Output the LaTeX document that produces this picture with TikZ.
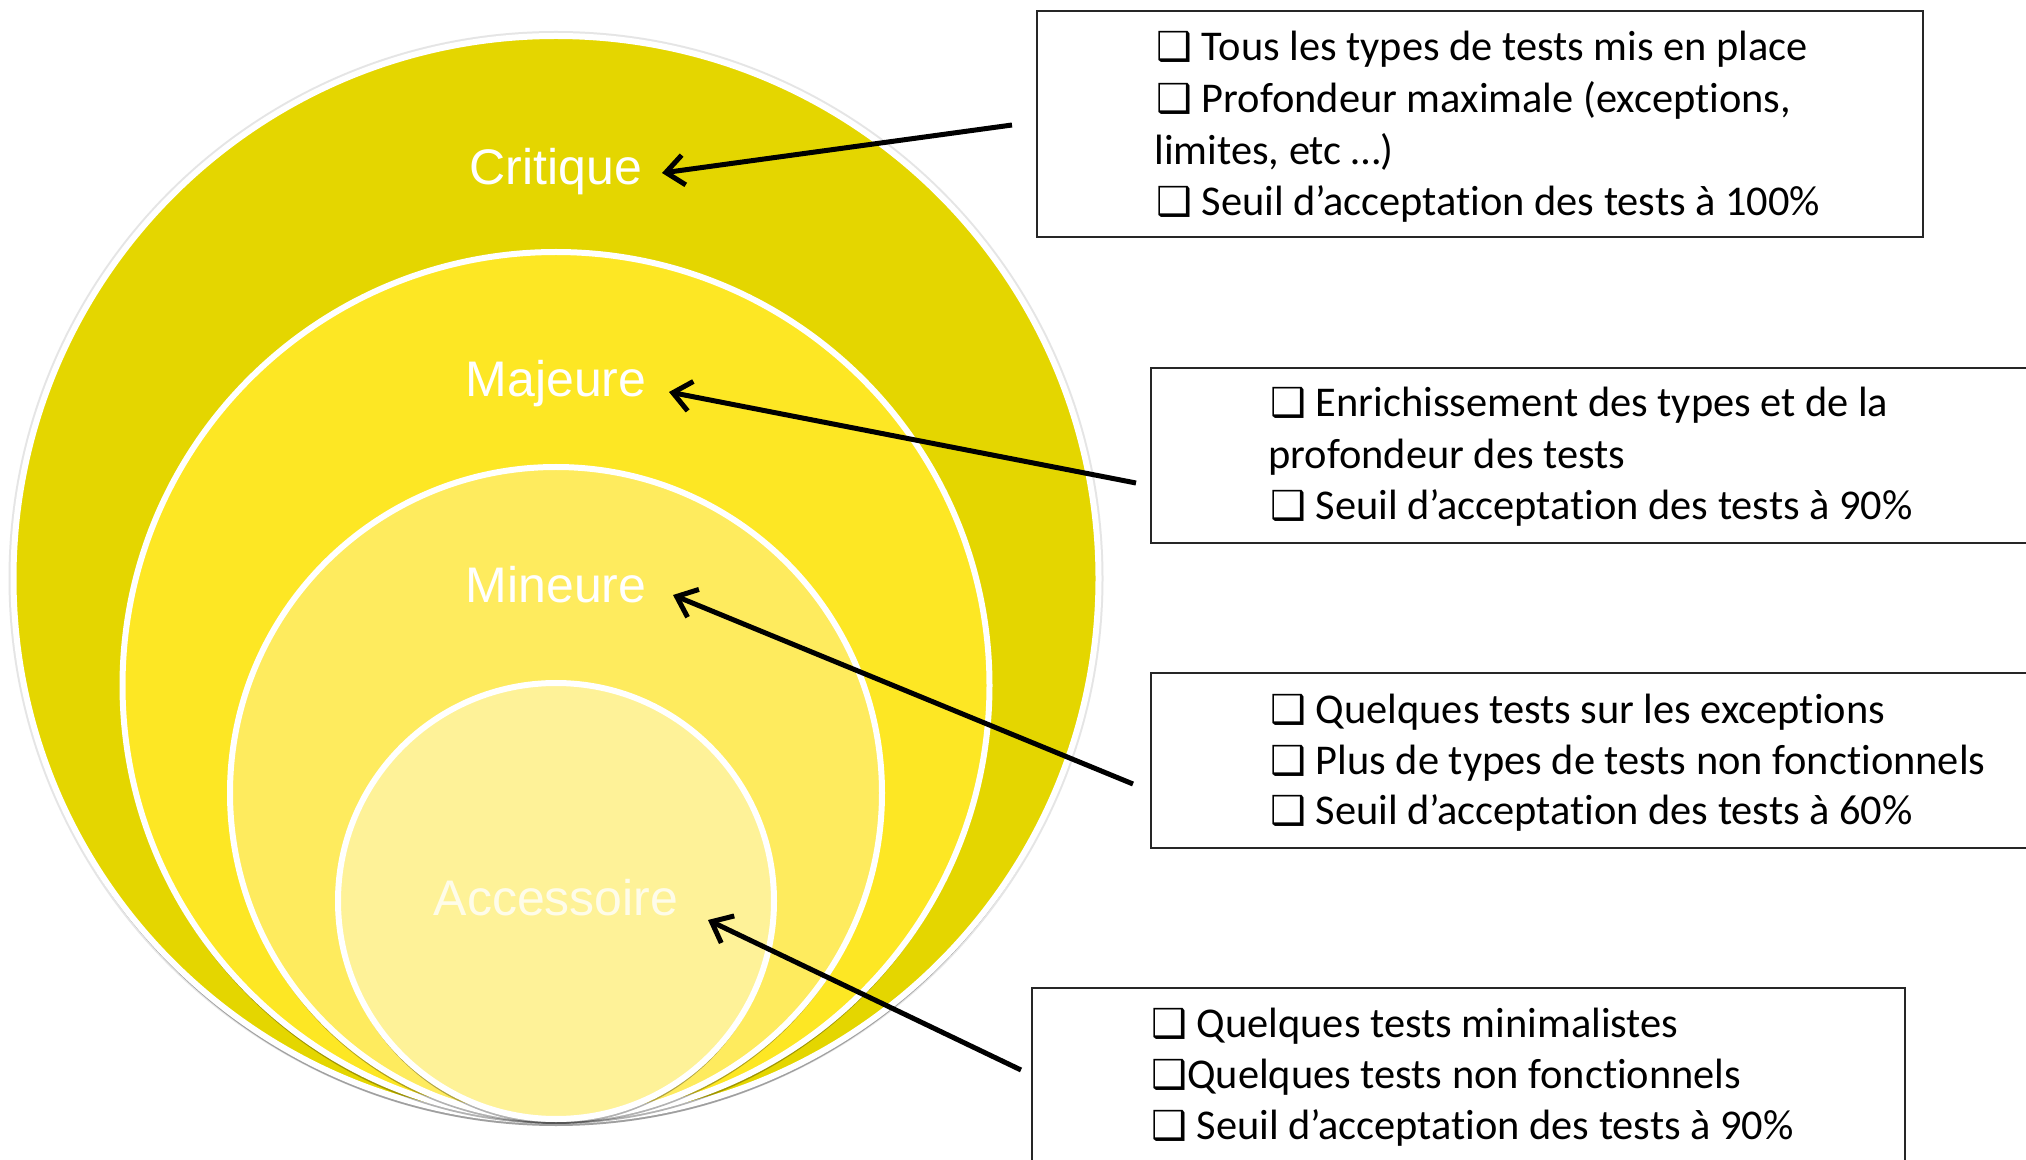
\documentclass[tikz,border=0pt]{standalone}
\usepackage{fontspec}
\setmainfont{Carlito}[Ligatures=NoCommon]
\newfontfamily\labfont{Liberation Sans}
\newfontfamily\symfont{DejaVu Sans}
\usetikzlibrary{arrows.meta,shadows}
\definecolor{cCrit}{HTML}{E4D600}
\definecolor{cMaj}{HTML}{FDE724}
\definecolor{cMin}{HTML}{FEEB5E}
\definecolor{cAcc}{HTML}{FEF298}
\newcommand\bul{{\symfont\fontsize{20pt}{20pt}\selectfont ❑}}
\begin{document}
\begin{tikzpicture}[x=0.5pt,y=-0.5pt,
  ring/.style={draw=white,line width=3pt,
    drop shadow={shadow xshift=0pt,shadow yshift=-2.5pt,opacity=.3,fill=black}},
  lab/.style={font=\labfont\fontsize{25pt}{30pt}\selectfont,text=white,anchor=base,inner sep=0pt},
  infobox/.style={draw=black!85,line width=1pt,fill=white,inner sep=0pt},
  txt/.style={font=\fontsize{21.2pt}{26pt}\selectfont,anchor=base west,inner sep=0pt},
  arr/.style={line width=2.5pt,-{Straight Barb[length=9pt,width=15pt]}}]
\useasboundingbox (0,0) rectangle (2026,1160);
\fill[white] (0,0) rectangle (2026,1160);
% circles
\draw[gray!20,line width=1.5pt] (556,578.5) circle[radius=546];
\fill[ring,fill=cCrit] (556,578.5) circle[radius=542.5];
\fill[ring,fill=cMaj] (556,685.5) circle[radius=433.5];
\fill[ring,fill=cMin] (556,793) circle[radius=326];
\fill[ring,fill=cAcc] (556,901) circle[radius=218];
% labels
\node[lab] (lCrit) at (556,185) {Critique};
\node[lab] (lMaj) at (556,397) {Majeure};
\node[lab] (lMin) at (556,603) {Mineure};
\node[lab,text opacity=.8] (lAcc) at (556,915) {Accessoire};
% boxes
\node[infobox,minimum width=443pt,minimum height=113pt] (box1) at (1480,124) {};
\node[infobox,minimum width=444.5pt,minimum height=87.5pt] (box2) at (1595.5,455.5) {};
\node[infobox,minimum width=444.5pt,minimum height=87.5pt] (box3) at (1595.5,760.5) {};
\node[infobox,minimum width=436.5pt,minimum height=96pt] (box4) at (1468.5,1084) {};
% box texts
\node[txt] (b1a) at (1156,61) {\bul\ Tous les types de tests mis en place};
\node[txt] (b1b) at (1156,113) {\bul\ Profondeur maximale (exceptions,};
\node[txt] (b1c) at (1154,165) {limites, etc …)};
\node[txt] (b1d) at (1156,216) {\bul\ Seuil d’acceptation des tests à 100\%};
\node[txt] (b2a) at (1270,417) {\bul\ Enrichissement des types et de la};
\node[txt] (b2b) at (1268,469) {profondeur des tests};
\node[txt] (b2c) at (1270,520) {\bul\ Seuil d’acceptation des tests à 90\%};
\node[txt] (b3a) at (1270,724) {\bul\ Quelques tests sur les exceptions};
\node[txt] (b3b) at (1270,774) {\bul\ Plus de types de tests non fonctionnels};
\node[txt] (b3c) at (1270,824) {\bul\ Seuil d’acceptation des tests à 60\%};
\node[txt] (b4a) at (1151,1037) {\bul\ Quelques tests minimalistes};
\node[txt] (b4b) at (1151,1088) {\bul Quelques tests non fonctionnels};
\node[txt] (b4c) at (1151,1139) {\bul\ Seuil d’acceptation des tests à 90\%};
% arrows
\coordinate (s1) at (1012,125); \coordinate (t1) at (662,173);
\coordinate (s2) at (1136,483); \coordinate (t2) at (669,392);
\coordinate (s3) at (1133,784); \coordinate (t3) at (673,595);
\coordinate (s4) at (1021,1070); \coordinate (t4) at (708,920);
\draw[arr] (s1) -- (t1);
\draw[arr] (s2) -- (t2);
\draw[arr] (s3) -- (t3);
\draw[arr] (s4) -- (t4);
\end{tikzpicture}
\end{document}
